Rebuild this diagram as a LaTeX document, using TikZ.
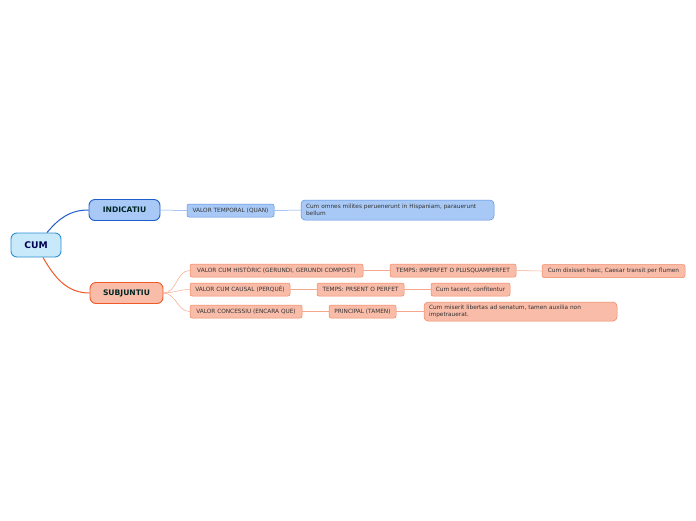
\documentclass[tikz,border=0pt]{standalone}
\usepackage{fontspec}
\setmainfont{DejaVu Sans}
\begin{document}
\begin{tikzpicture}[x=1pt,y=-1pt,
  every node/.style={inner sep=0pt},
  mainnode/.style={draw, rounded corners=6pt, line width=0.9pt, font=\fontsize{7.6}{8}\selectfont\bfseries},
  blueleaf/.style={draw=blueB, fill=blueF, rounded corners=2pt, line width=0.5pt, font=\fontsize{5.8}{6.6}\selectfont, text=textC},
  redleaf/.style={draw=redB, fill=redF, rounded corners=2pt, line width=0.5pt, font=\fontsize{5.8}{6.6}\selectfont, text=textC},
  blink/.style={draw=blueL, line width=0.5pt},
  rlink/.style={draw=redL, line width=0.5pt}]
\definecolor{cumF}{HTML}{C8E9FA}
\definecolor{cumB}{HTML}{2B8FD4}
\definecolor{blueF}{HTML}{A8C9F6}
\definecolor{blueB}{HTML}{5A8FE2}
\definecolor{blueM}{HTML}{1F5FCC}
\definecolor{blueL}{HTML}{7AA8EC}
\definecolor{redF}{HTML}{F8BCA8}
\definecolor{redB}{HTML}{F0855F}
\definecolor{redM}{HTML}{F05A28}
\definecolor{redL}{HTML}{F6A88C}
\definecolor{textC}{HTML}{333333}
\useasboundingbox (0,0) rectangle (696,520);
\fill[white] (0,0) rectangle (696,520);

\node[mainnode, fill=cumF, draw=cumB, text=black!20!blue!40!black, minimum width=50pt, minimum height=24pt, font=\fontsize{9.2}{10}\selectfont\bfseries] (cum) at (36,245) {CUM};
\node[mainnode, fill=blueF, draw=blueM, text=black!70!teal, minimum width=71pt, minimum height=21pt] (ind) at (124.5,210) {INDICATIU};
\node[mainnode, fill=redF, draw=redM, text=black!70!teal, minimum width=73pt, minimum height=21pt] (sub) at (126.5,293) {SUBJUNTIU};

\node[blueleaf, minimum width=87pt, minimum height=13pt] (vt) at (230.5,210.5) {VALOR TEMPORAL (QUAN)};
\node[blueleaf, rounded corners=4pt, minimum width=193pt, minimum height=20pt, text width=183pt, align=left] (ex1) at (397.5,210) {Cum omnes milites peruenerunt in Hispaniam, parauerunt\\bellum};

\node[redleaf, minimum width=173pt, minimum height=13pt] (vh) at (276.5,270.5) {VALOR CUM HISTÒRIC (GERUNDI, GERUNDI COMPOST)};
\node[redleaf, minimum width=126pt, minimum height=13pt] (t1) at (453,270.5) {TEMPS: IMPERFET O PLUSQUAMPERFET};
\node[redleaf, minimum width=143pt, minimum height=13pt] (ex2) at (613.5,271) {Cum dixisset haec, Caesar transit per flumen};

\node[redleaf, minimum width=100pt, minimum height=13pt] (vc) at (240,289.5) {VALOR CUM CAUSAL (PERQUÈ)};
\node[redleaf, minimum width=87pt, minimum height=13pt] (t2) at (360.5,289.5) {TEMPS: PRSENT O PERFET};
\node[redleaf, minimum width=79pt, minimum height=13pt] (ex3) at (470.5,289.5) {Cum tacent, confitentur};

\node[redleaf, minimum width=112pt, minimum height=13pt] (vs) at (246,311.5) {VALOR CONCESSIU (ENCARA QUE)};
\node[redleaf, minimum width=67pt, minimum height=13pt] (t3) at (362.5,311.5) {PRINCIPAL (TAMEN)};
\node[redleaf, rounded corners=4pt, minimum width=193pt, minimum height=19pt, text width=183pt, align=left] (ex4) at (520.5,311.5) {Cum miserit libertas ad senatum, tamen auxilia non\\impetrauerat.};

\draw[blueM, line width=1pt] ([xshift=11pt]cum.north) to[out=50,in=180] (ind.west);
\draw[redM, line width=1pt] ([xshift=7pt]cum.south) to[out=-60,in=180] (sub.west);

\draw[blink] (ind.east) to[out=0,in=180] (vt.west);
\draw[blink] (vt.east) to[out=0,in=180] (ex1.west);

\draw[rlink] (sub.east) to[out=0,in=180] (vh.west);
\draw[rlink] (sub.east) to[out=0,in=180] (vc.west);
\draw[rlink] (sub.east) to[out=0,in=180] (vs.west);
\draw[rlink] (vh.east) -- (t1.west);
\draw[rlink] (t1.east) to[out=0,in=180] (ex2.west);
\draw[rlink] (vc.east) -- (t2.west);
\draw[rlink] (t2.east) -- (ex3.west);
\draw[rlink] (vs.east) -- (t3.west);
\draw[rlink] (t3.east) to[out=0,in=180] (ex4.west);
\end{tikzpicture}
\end{document}
